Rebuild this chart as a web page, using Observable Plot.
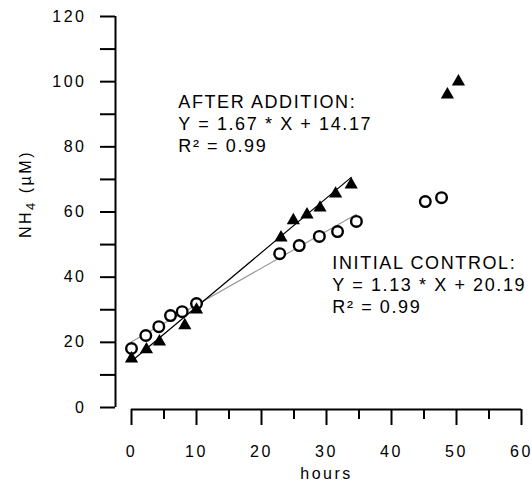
<!DOCTYPE html>
<html><head><meta charset="utf-8">
<script src="https://cdn.jsdelivr.net/npm/d3@7"></script>
<script src="https://cdn.jsdelivr.net/npm/@observablehq/plot@0.6"></script>
<style>body{margin:0;background:#fff}</style>
</head><body><div id="chart"></div>
<script>
// Initial control (open circles)
const controlHours = [0, 2.2, 4.2, 6, 7.8, 10, 22.8, 25.8, 28.9, 31.7, 34.6, 45.2, 47.7];
const controlNH4   = [18.1, 22.1, 24.8, 28.2, 29.4, 31.9, 47.2, 49.7, 52.5, 54, 57.1, 63.2, 64.4];
// After addition (filled triangles)
const additionHours = [0, 2.3, 4.3, 8.2, 10, 23, 24.9, 27, 29, 31.4, 33.8, 48.6, 50.3];
const additionNH4   = [15, 17.8, 20.2, 25.2, 30, 52.1, 57.4, 59.2, 61.3, 65.6, 68.4, 96, 100];
// Regression lines (from the printed equations)
const fitNames = ["after", "control"];
const fitSlopes = [1.67, 1.13];
const fitIntercepts = [14.17, 20.19];
const fitEndHours = [33.8, 34.6];
// Annotations
const afterLabel = "AFTER ADDITION:\nY = 1.67 * X + 14.17\nR² = 0.99";
const controlLabel = "INITIAL CONTROL:\nY = 1.13 * X + 20.19\nR² = 0.99";
const annotX = [7.2, 30.9];
const annotY = [87.4, 38.0];
// Ticks
const xMajorTicks = [0, 10, 20, 30, 40, 50, 60];
const xMinorTicks = [5, 15, 25, 35, 45, 55];
const yMajorTicks = [0, 20, 40, 60, 80, 100, 120];
const yMinorTicks = [10, 30, 50, 70, 90, 110];

const control = controlHours.map((h, i) => ({hours: h, nh4: controlNH4[i]}));
const addition = additionHours.map((h, i) => ({hours: h, nh4: additionNH4[i]}));
const fitLine = (k) => [
  {hours: 0, nh4: fitIntercepts[k]},
  {hours: fitEndHours[k], nh4: fitIntercepts[k] + fitSlopes[k] * fitEndHours[k]}
];
const annots = [
  {text: afterLabel, x: annotX[0], y: annotY[0]},
  {text: controlLabel, x: annotX[1], y: annotY[1]}
];

const font = "'Liberation Sans', Arial, sans-serif";
const chart = Plot.plot({
  width: 532,
  height: 483,
  marginLeft: 131,
  marginRight: 11,
  marginTop: 16,
  marginBottom: 76,
  style: {fontFamily: font, fontSize: "16px", letterSpacing: "2.5px", color: "#000", background: "#fff"},
  x: {domain: [0, 60], axis: null},
  y: {domain: [0, 120], axis: null},
  marks: [
    // Y axis
    Plot.ruleX([0], {y1: 0, y2: 120, dx: -16, stroke: "#000", strokeWidth: 2}),
    Plot.axisY(yMajorTicks, {anchor: "left", tickSize: 15, tickPadding: 14, dx: -16, stroke: "#000", strokeWidth: 2, fontSize: 16, label: null, tickFormat: d => String(d)}),
    Plot.axisY(yMinorTicks, {anchor: "left", tickSize: 15, dx: -16, stroke: "#000", strokeWidth: 2, text: null, label: null}),
    // X axis
    Plot.ruleY([0], {x1: 0, x2: 60, dy: 2, stroke: "#000", strokeWidth: 2}),
    Plot.axisX(xMajorTicks, {anchor: "bottom", tickSize: 16, tickPadding: 20, dy: 2, stroke: "#000", strokeWidth: 2, fontSize: 16, label: null, tickFormat: d => String(d)}),
    Plot.axisX(xMinorTicks, {anchor: "bottom", tickSize: 10, dy: 2, stroke: "#000", strokeWidth: 2, text: null, label: null}),
    // Fit lines
    Plot.line(fitLine(1), {x: "hours", y: "nh4", stroke: "#9a9a9a", strokeWidth: 1.2}),
    Plot.line(fitLine(0), {x: "hours", y: "nh4", stroke: "#000", strokeWidth: 1.2}),
    // Points
    Plot.dot(control, {x: "hours", y: "nh4", r: 5.3, stroke: "#000", strokeWidth: 2.4, fill: "#fff", symbol: "circle"}),
    Plot.dot(addition, {x: "hours", y: "nh4", r: 4.9, fill: "#000", stroke: "none", symbol: "triangle"}),
    // Annotations
    Plot.text(annots, {x: "x", y: "y", text: "text", textAnchor: "start", lineAnchor: "middle", lineHeight: 1.22, fontSize: 18, fill: "#000"}),
    // Axis labels
    Plot.text(["hours"], {frameAnchor: "bottom", dy: 66, lineAnchor: "middle", fontSize: 16, fill: "#000"}),
    Plot.text(["NH4 (µM)"], {frameAnchor: "left", rotate: -90, dx: -106, dy: 26, lineAnchor: "middle", fontSize: 16, fill: "#000"})
  ]
});

// Annotation letter spacing
chart.querySelectorAll("g[aria-label='text'] text").forEach(t => {
  if (/ADDITION|CONTROL/.test(t.textContent)) {
    t.style.letterSpacing = "1.6px";
    t.querySelectorAll("tspan").forEach(s => s.style.letterSpacing = "1.6px");
  }
});
// Subscript the 4 in NH4
chart.querySelectorAll("text").forEach(t => {
  if (t.textContent === "NH4 (µM)") {
    t.textContent = "";
    const ns = "http://www.w3.org/2000/svg";
    const a = document.createElementNS(ns, "tspan"); a.textContent = "NH";
    const b = document.createElementNS(ns, "tspan"); b.textContent = "4";
    b.setAttribute("dy", "4"); b.setAttribute("font-size", "13");
    const c = document.createElementNS(ns, "tspan"); c.textContent = " (µM)";
    c.setAttribute("dy", "-4");
    t.append(a, b, c);
  }
});
document.getElementById("chart").append(chart);
</script>
</body></html>
